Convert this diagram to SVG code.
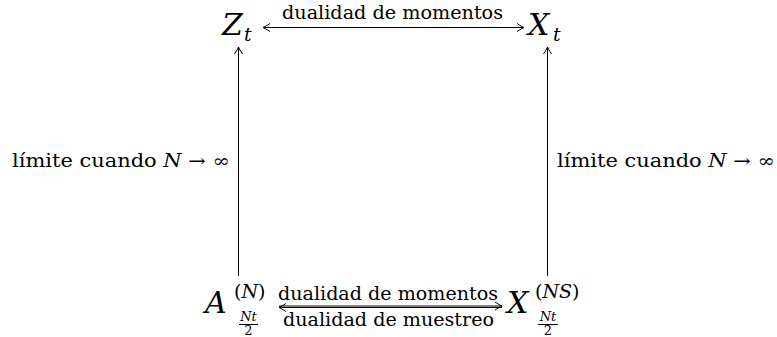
<svg xmlns="http://www.w3.org/2000/svg" width="777" height="337" viewBox="0 0 777 337">
<style>
text{font-family:'DejaVu Serif',serif;fill:#000}
.m{font-style:italic}
.lbl{font-size:18px}
.big{font-size:30px}
.sub{font-size:19px}
.sup{font-size:19px}
.fr{font-size:13px}
.ln{stroke:#000;stroke-width:1;fill:none}
</style>
<defs>
<marker id="ah" viewBox="-8 -5 10 10" refX="0" refY="0" markerWidth="10" markerHeight="10" markerUnits="userSpaceOnUse" orient="auto-start-reverse">
<path d="M-7,-4 Q-2.5,-1 0,0 Q-2.5,1 -7,4" fill="none" stroke="#000" stroke-width="1"/>
</marker>
</defs>
<rect width="777" height="337" fill="#fff"/>
<g id="Zt"><text class="big m" x="222" y="35">Z</text><text class="sub m" x="244" y="41">t</text></g>
<g id="Xt"><text class="big m" x="528" y="35">X</text><text class="sub m" x="553" y="41">t</text></g>
<g id="A"><text class="big m" x="205" y="313">A</text>
<text class="sup" x="234" y="298">(<tspan class="m">N</tspan>)</text>
<text class="fr m" x="248.5" y="321" text-anchor="middle">Nt</text>
<line class="ln" x1="239" y1="324.5" x2="258" y2="324.5"/>
<text class="fr" x="248.5" y="335" text-anchor="middle">2</text></g>
<g id="XNS"><text class="big m" x="507" y="313">X</text>
<text class="sup" x="535" y="298">(<tspan class="m">NS</tspan>)</text>
<text class="fr m" x="548" y="321" text-anchor="middle">Nt</text>
<line class="ln" x1="538" y1="324.5" x2="558" y2="324.5"/>
<text class="fr" x="548" y="335" text-anchor="middle">2</text></g>
<g id="connectors">
<line class="ln" x1="263" y1="27.5" x2="524" y2="27.5" marker-start="url(#ah)" marker-end="url(#ah)"/>
<text class="lbl" x="282" y="19" textLength="221" lengthAdjust="spacingAndGlyphs">dualidad de momentos</text>
<line class="ln" x1="238.5" y1="276" x2="238.5" y2="47" marker-end="url(#ah)"/>
<line class="ln" x1="547.5" y1="276" x2="547.5" y2="47" marker-end="url(#ah)"/>
<text class="lbl" x="12" y="167" textLength="218" lengthAdjust="spacingAndGlyphs">límite cuando <tspan class="m">N</tspan> → ∞</text>
<text class="lbl" x="557" y="167" textLength="218" lengthAdjust="spacingAndGlyphs">límite cuando <tspan class="m">N</tspan> → ∞</text>
<line class="ln" x1="279" y1="306" x2="502" y2="306" marker-end="url(#ah)"/>
<line class="ln" x1="279" y1="307.5" x2="502" y2="307.5" marker-start="url(#ah)"/>
<text class="lbl" x="278" y="300" textLength="220" lengthAdjust="spacingAndGlyphs">dualidad de momentos</text>
<text class="lbl" x="283" y="326" textLength="211" lengthAdjust="spacingAndGlyphs">dualidad de muestreo</text>
</g>
</svg>
